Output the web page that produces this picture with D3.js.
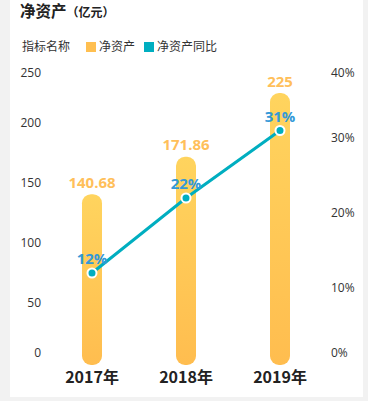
<!DOCTYPE html>
<html><head><meta charset="utf-8">
<script src="https://cdn.jsdelivr.net/npm/d3@7"></script>
<style>
html,body{margin:0;padding:0;background:#f2f2f2;}
svg{display:block;}
</style></head>
<body>
<svg id="c" width="368" height="401"></svg>
<script>
const categories = ["2017年", "2018年", "2019年"];
const netAssets = [140.68, 171.86, 225];
const growth = [12, 22, 31];
const growthLabels = ["12%", "22%", "31%"];
const leftTicks = [0, 50, 100, 150, 200, 250];
const rightTicks = [0, 10, 20, 30, 40];
const title = "净资产";
const unit = "（亿元）";
const legendTitle = "指标名称";
const seriesNames = ["净资产", "净资产同比"];

const font = "'Open Sans','Noto Sans CJK SC',sans-serif";
const cjk = "'Noto Sans CJK SC','Open Sans',sans-serif";
const svg = d3.select("#c");

svg.append("rect").attr("x",10).attr("y",0).attr("width",353).attr("height",397).attr("fill","#fff");

const defs = svg.append("defs");
const g = defs.append("linearGradient").attr("id","bg").attr("x1",0).attr("y1",0).attr("x2",0).attr("y2",1);
g.append("stop").attr("offset","0%").attr("stop-color","#ffd45e");
g.append("stop").attr("offset","100%").attr("stop-color","#ffbd4f");

// title
const t = svg.append("text").attr("x",20).attr("y",17).attr("font-family",cjk).attr("font-weight","bold").attr("fill","#222");
t.append("tspan").attr("font-size","15.5px").text(title);
t.append("tspan").attr("font-size","12px").text(unit);

// legend
svg.append("text").attr("x",22).attr("y",50.5).attr("font-family",cjk).attr("font-size","12px").attr("fill","#333").text(legendTitle);
const legendColors = ["#ffbf50", "#00aec0"];
const legX = [86, 144];
seriesNames.forEach((n,i)=>{
  svg.append("rect").attr("x",legX[i]).attr("y",42).attr("width",10).attr("height",10).attr("fill",legendColors[i]);
  svg.append("text").attr("x",legX[i]+13).attr("y",50.5).attr("font-family",cjk).attr("font-size","12px").attr("fill","#333").text(n);
});

const x = d3.scaleBand().domain(categories).range([45, 327]);
const y = d3.scaleLinear().domain([0, 250]).range([363, 63]);
const y2 = d3.scaleLinear().domain([0, 40]).range([363, 63]);

// left axis
const la = svg.append("g").attr("transform","translate(41,0)")
  .call(d3.axisLeft(y).tickValues(leftTicks).tickSize(0).tickPadding(0));
la.select(".domain").remove();
la.selectAll("text").attr("font-family",font).attr("font-size","12px").attr("fill","#333")
  .attr("dy", d => d===250 ? "1.15em" : d===0 ? "-0.55em" : "0.32em");

const ra = svg.append("g").attr("transform","translate(331,0)")
  .call(d3.axisRight(y2).tickValues(rightTicks).tickSize(0).tickPadding(0).tickFormat(d=>d+"%"));
ra.select(".domain").remove();
ra.selectAll("text").attr("font-family",font).attr("font-size","12px").attr("fill","#333")
  .attr("dy", d => d===40 ? "1.15em" : d===0 ? "-0.55em" : "0.32em");

// bars
const bw = 20;
svg.append("g").selectAll("rect").data(netAssets).join("rect")
  .attr("x",(d,i)=>x(categories[i])+x.bandwidth()/2-bw/2)
  .attr("y",d=>y(d))
  .attr("width",bw)
  .attr("height",d=>y(0)-y(d)+2)
  .attr("rx",9).attr("ry",9)
  .attr("fill","url(#bg)");

svg.append("g").selectAll("text").data(netAssets).join("text")
  .attr("x",(d,i)=>x(categories[i])+x.bandwidth()/2)
  .attr("y",d=>y(d)-6.5)
  .attr("text-anchor","middle")
  .attr("font-family",font).attr("font-weight","bold").attr("font-size","15px").attr("fill","#ffbf5a")
  .text(d=>d);

// x labels
const xa = svg.append("g").attr("transform","translate(0,366)")
  .call(d3.axisBottom(x).tickSize(0).tickPadding(0));
xa.select(".domain").remove();
xa.selectAll("text").attr("font-family",cjk).attr("font-weight","bold").attr("font-size","16px").attr("fill","#222").attr("dy","1.05em");

// line
const line = d3.line().x((d,i)=>x(categories[i])+x.bandwidth()/2).y(d=>y2(d));
svg.append("path").datum(growth).attr("d",line).attr("fill","none").attr("stroke","#00aec0").attr("stroke-width",3);
svg.append("g").selectAll("circle").data(growth).join("circle")
  .attr("cx",(d,i)=>x(categories[i])+x.bandwidth()/2).attr("cy",d=>y2(d))
  .attr("r",4.5).attr("fill","#00aec0").attr("stroke","#fff").attr("stroke-width",2);
svg.append("g").selectAll("text").data(growth).join("text")
  .attr("x",(d,i)=>x(categories[i])+x.bandwidth()/2).attr("y",d=>y2(d)-9)
  .attr("text-anchor","middle")
  .attr("font-family",font).attr("font-weight","bold").attr("font-size","15px").attr("fill","#3399d8")
  .text((d,i)=>growthLabels[i]);
</script>
</body></html>
